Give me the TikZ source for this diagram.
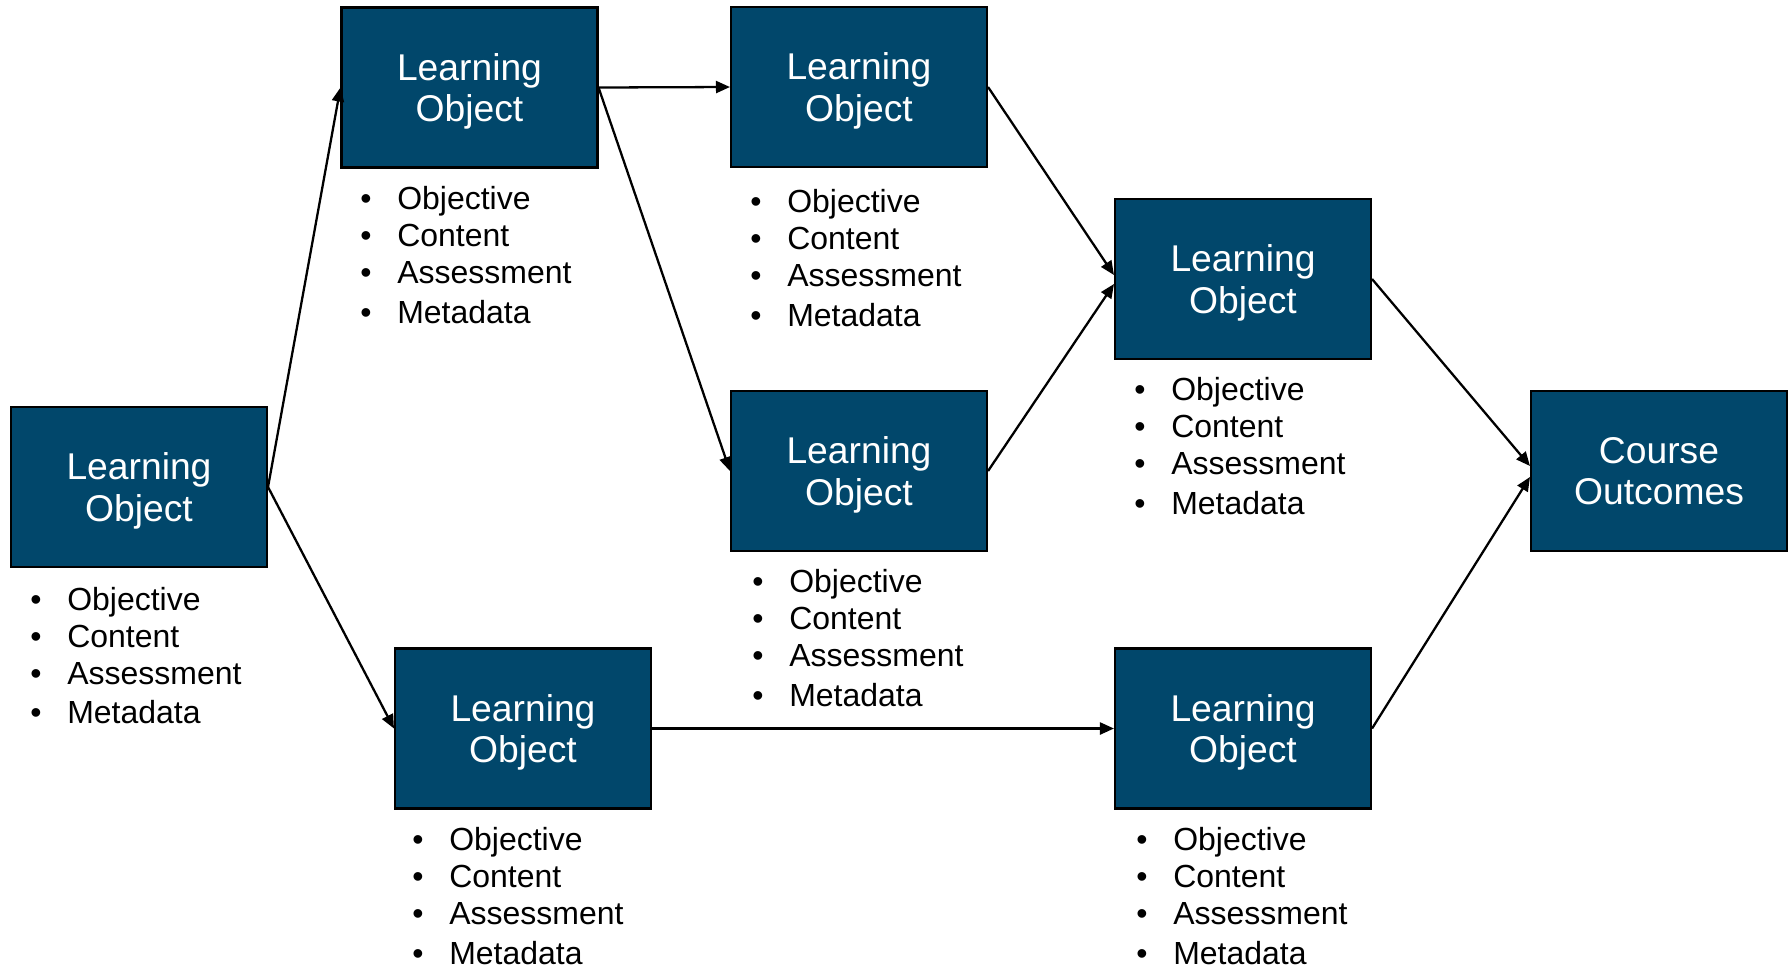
\documentclass[tikz,border=0pt]{standalone}
\usepackage{fontspec}
\setmainfont{Liberation Sans}
\usetikzlibrary{arrows.meta}
\definecolor{loblue}{RGB}{1,71,107}
\newcommand{\bul}{\makebox[0.74cm][l]{\textbullet}}
\newcommand{\lobox}[4] % name, x in px, y in px, text
{
	% filled box, white text
	\node[box] (#1) at (#2,#3) {#4};
}
\newcommand{\topics}[3] % name, left of bullet in px, middle of list in px
{
	% bullet list under a box
	\node[topics] (#1) at (#2,#3) {\bul Objective\\\bul Content\\\bul Assessment\\[1.5pt]\bul Metadata};
}

\begin{document}
\begin{tikzpicture}[x=0.02cm, y=-0.02cm,
	box/.style={draw=black, line width=1.2pt, fill=loblue, text=white, inner sep=0pt,
		minimum width=5.12cm, minimum height=3.2cm, align=center, text depth=0pt,
		font=\fontsize{21.2}{23.8}\selectfont},
	topics/.style={anchor=west, align=left, inner sep=0pt,
		font=\fontsize{18.2}{21}\selectfont},
	arr/.style={-{Triangle[length=0.28cm,width=0.24cm]}, line width=1.3pt}]
	% 1791px x 968px
	\useasboundingbox (0,0) rectangle (1791,968);
	\lobox{loa}{139}{487}{Learning\\Object};
	\lobox{lob}{469.5}{87.5}{Learning\\Object};
	\lobox{loc}{859}{87}{Learning\\Object};
	\lobox{lod}{859}{471}{Learning\\Object};
	\lobox{loe}{523}{728.5}{Learning\\Object};
	\lobox{lof}{1243}{279}{Learning\\Object};
	\lobox{log}{1243}{728.5}{Learning\\Object};
	\lobox{outcomes}{1659}{471}{Course\\Outcomes};
	
	\topics{ta}{30}{655.5};
	\topics{tb}{360}{255};
	\topics{tc}{750}{258};
	\topics{td}{752}{638};
	\topics{te}{412}{896};
	\topics{tf}{1134}{446};
	\topics{tg}{1136}{896};
	
	% arrows
	\draw[arr] (loa.east) -- (lob.west);
	\draw[arr] (loa.east) -- (loe.west);
	\draw[arr] (lob.east) -- (loc.west);
	\draw[arr] (lob.east) -- (lod.west);
	\draw[arr] (loc.east) -- ([yshift=0.08cm]lof.west);
	\draw[arr] (lod.east) -- ([yshift=-0.1cm]lof.west);
	\draw[arr] (loe.east) -- (log.west);
	\draw[arr] (lof.east) -- ([yshift=0.1cm]outcomes.west);
	\draw[arr] (log.east) -- ([yshift=-0.12cm]outcomes.west);
\end{tikzpicture}
\end{document}
